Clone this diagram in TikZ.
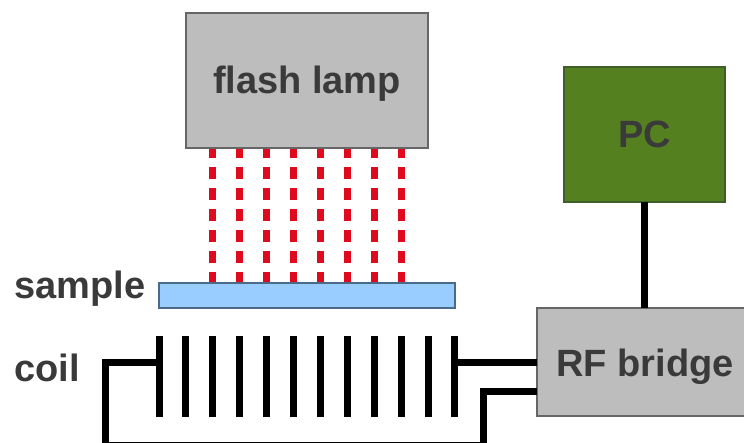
\documentclass[tikz,border=0pt]{standalone}
\usepackage{fontspec}
\setmainfont{Liberation Sans}
\definecolor{boxgray}{HTML}{BDBDBD}
\definecolor{boxedge}{HTML}{666666}
\definecolor{pcgreen}{HTML}{55801F}
\definecolor{pcedge}{HTML}{3F5F2A}
\definecolor{samplefill}{HTML}{99CCFF}
\definecolor{sampleedge}{HTML}{4A6A8A}
\definecolor{labeltext}{HTML}{3A3A3A}
\definecolor{beam}{HTML}{E00A1E}
\tikzset{
  x=1pt,y=-1pt,
  labelfont/.style={text=labeltext,font=\fontsize{38}{40}\selectfont\bfseries,inner sep=0pt},
  blockbox/.style={draw=boxedge,line width=1.6pt,fill=boxgray,inner sep=0pt,outer sep=0pt,anchor=north west},
  caption/.style={labelfont,anchor=west},
  wire/.style={line width=7pt,line join=miter,black},
  coilbar/.style={line width=7pt,black},
  ray/.style={line width=7pt,beam,dash pattern=on 12pt off 9pt},
}
\begin{document}
\begin{tikzpicture}
\useasboundingbox (0,0) rectangle (744,443);
\clip (0,0) rectangle (744,443);
\fill[white] (0,0) rectangle (744,443);
% rays run from the lamp to the sample
\foreach \i/\x in {1/212,2/239,3/266,4/293,5/320,6/347,7/374,8/401}{
  \coordinate (rt\i) at (\x,146.5);
  \coordinate (rb\i) at (\x,282);
  \draw[ray] (rt\i) -- (rb\i);
}
\node[blockbox,minimum width=242pt,minimum height=135pt] (lamp) at (186,13) {};
\node[draw=sampleedge,line width=1.6pt,fill=samplefill,inner sep=0pt,outer sep=0pt,anchor=north west,minimum width=296pt,minimum height=25pt] (sample) at (159,283) {};
\node[labelfont] (lamptext) at (307,83.5) {flash lamp};
\node[blockbox,draw=pcedge,fill=pcgreen,minimum width=161pt,minimum height=135pt] (pc) at (564,67) {};
\node[labelfont] (pctext) at (644.5,134) {PC};
\node[blockbox,minimum width=230pt,minimum height=108pt] (rf) at (537,308) {};
\node[labelfont] (rftext) at (645,367) {RF bridge};
\node[caption] (samplelabel) at (14,289) {sample};
\node[caption] (coillabel) at (14,368) {coil};
% coil bars
\foreach \i in {0,...,11}{
  \coordinate (ct\i) at ({159+\i*26.9},336);
  \coordinate (cb\i) at ({159+\i*26.9},417);
  \draw[coilbar] (ct\i) -- (cb\i);
}
\coordinate (cl) at (159,363);
\coordinate (cr) at (455,363);
\coordinate (rfup) at (537,363);
\coordinate (rflow) at (537,391);
\coordinate (bl) at (105,445);
\coordinate (br) at (483,445);
\draw[wire] (cr) -- (rfup);
\draw[wire] (cl) -- (105,363) -- (bl) -- (br) -- (483,391) -- (rflow);
\draw[wire] (pc.south) -- (pc.south |- rf.north);
\end{tikzpicture}
\end{document}
